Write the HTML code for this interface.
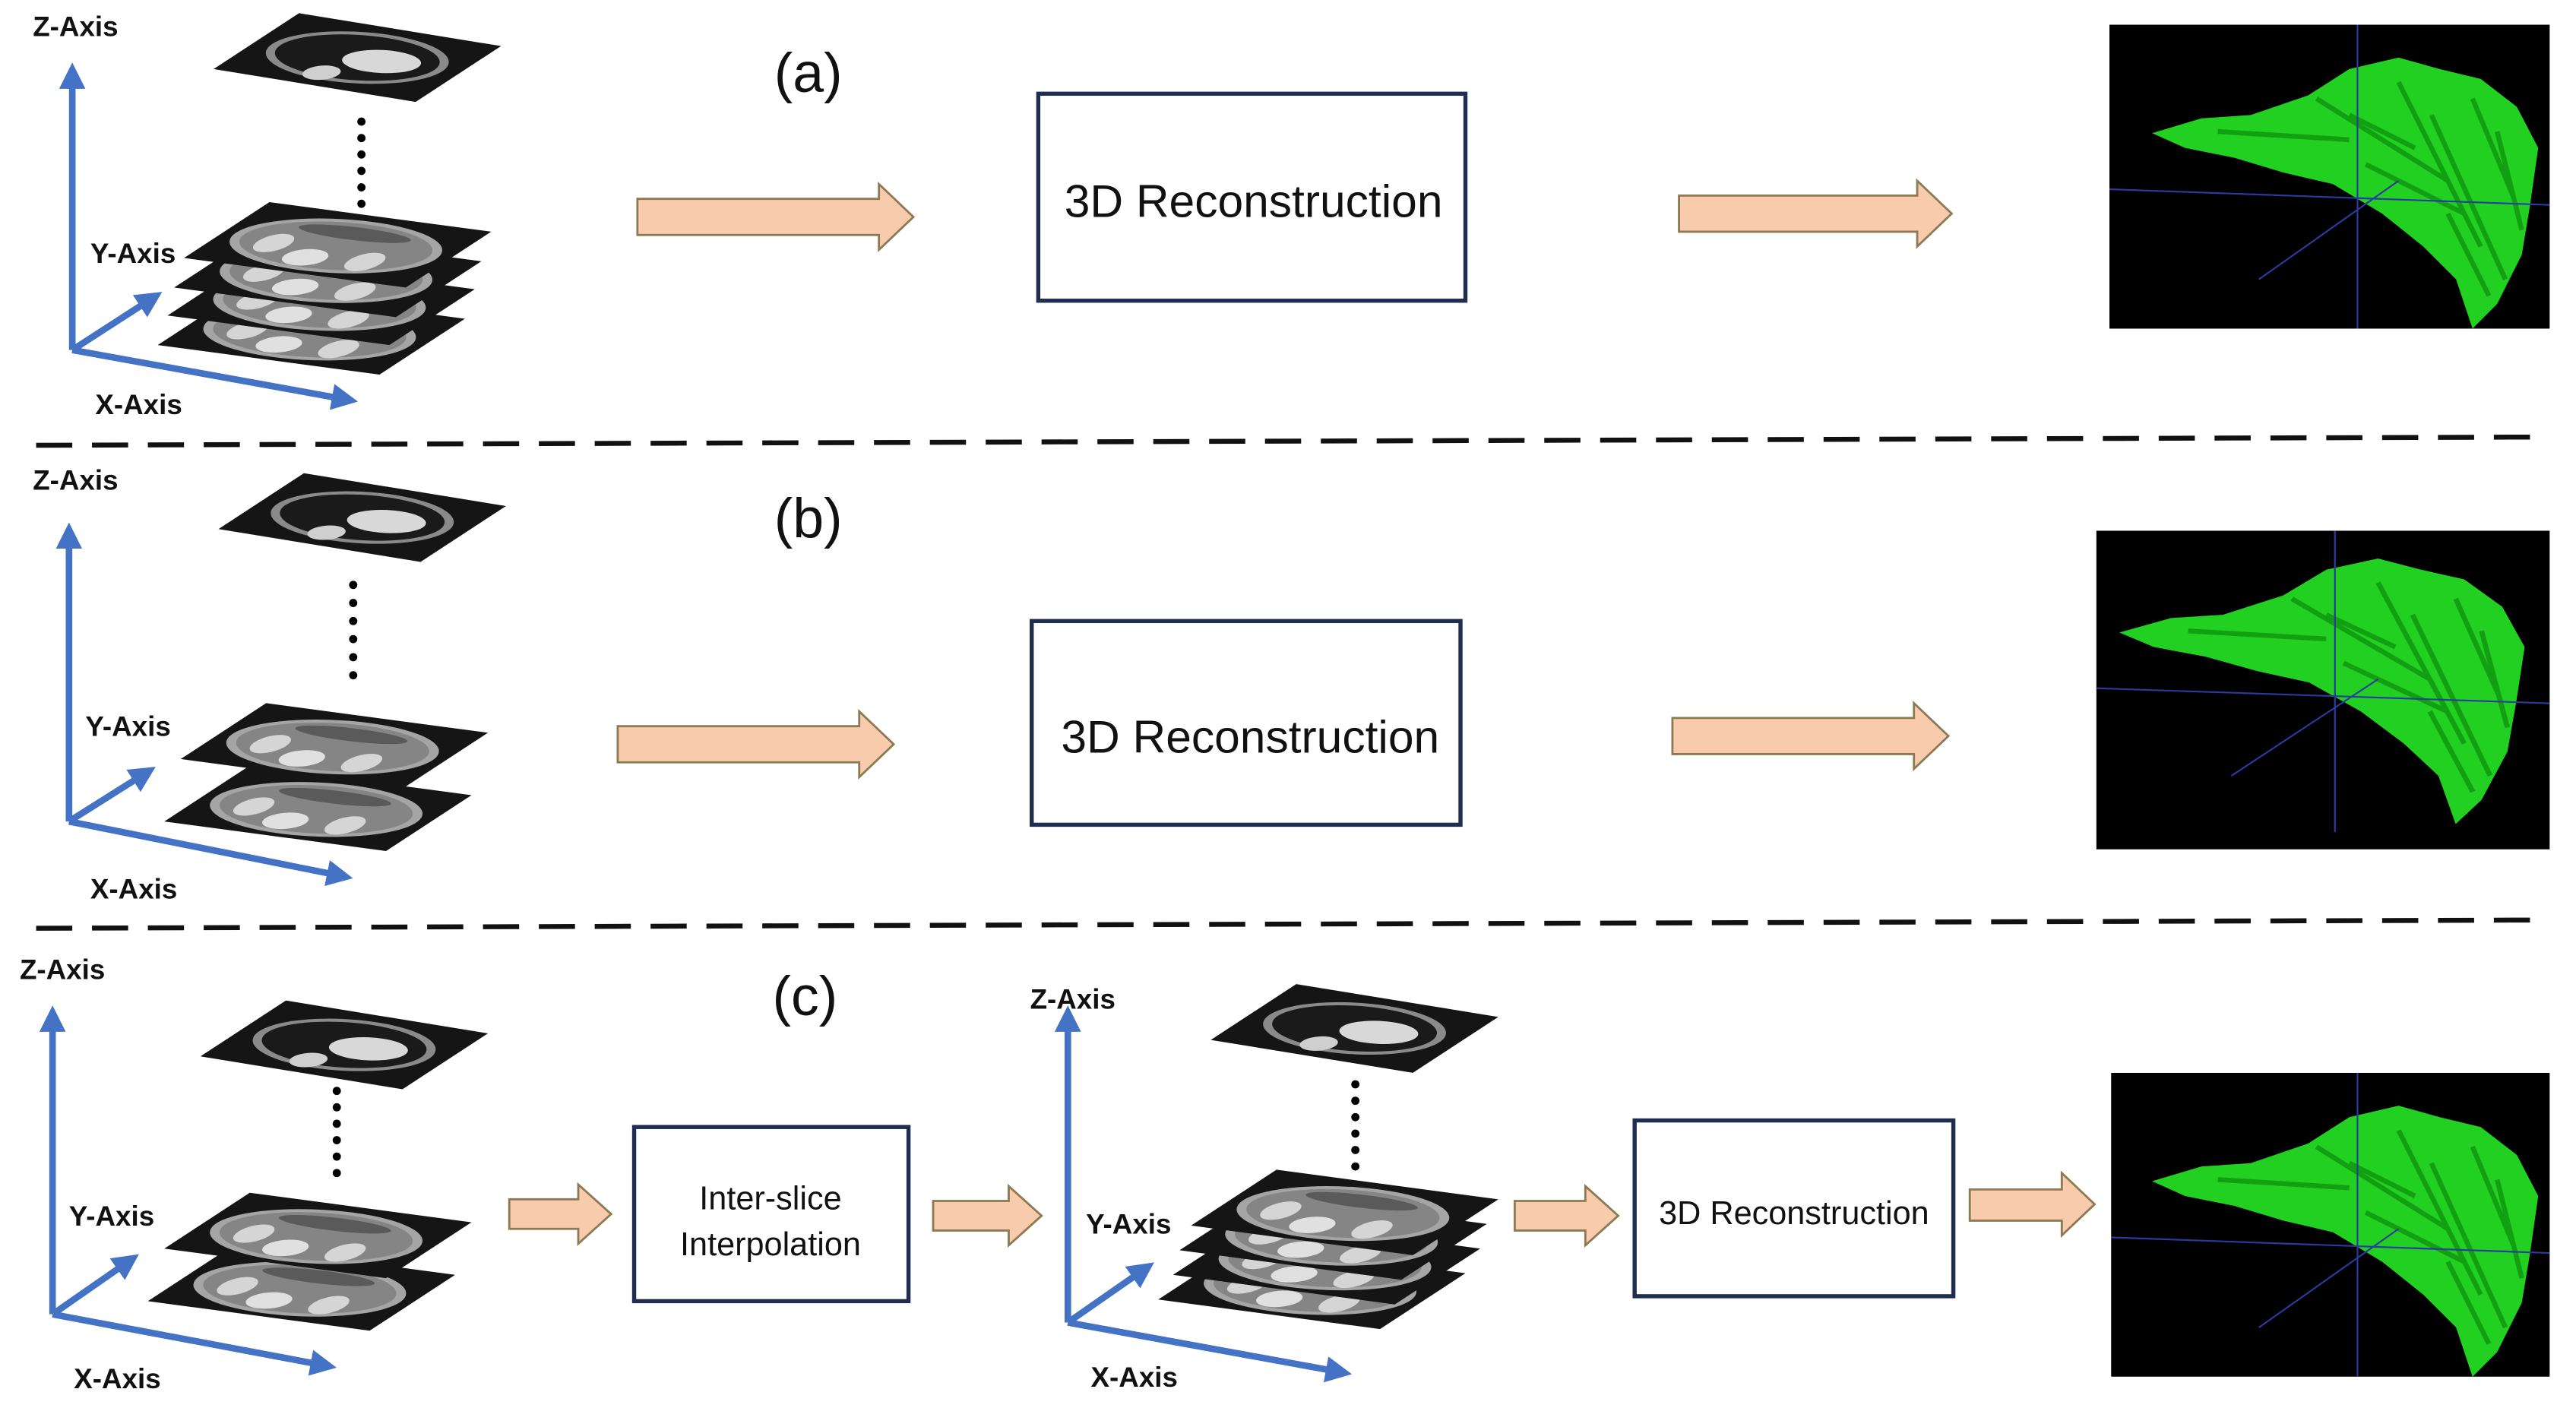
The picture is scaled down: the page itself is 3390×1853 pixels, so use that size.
<!DOCTYPE html>
<html><head><meta charset="utf-8"><style>
html,body{margin:0;padding:0;background:#fff;}
svg{display:block;}
text{font-family:"Liberation Sans",sans-serif;}
.ax{font-weight:bold;font-size:17px;fill:#111;}
.lbl{font-size:34px;fill:#111;text-anchor:middle;}
.bt{font-size:28px;fill:#111;text-anchor:middle;}
.bs{font-size:20px;fill:#111;text-anchor:middle;}
.box{fill:#fff;stroke:#1f2d50;stroke-width:2.5;}
.arr{fill:#f8cbad;stroke:#8c7a55;stroke-width:1.3;}
.axis{stroke:#4472c4;stroke-width:4;fill:none;}
.dash{stroke:#111;stroke-width:3;stroke-dasharray:22 12;}
</style></head><body>
<svg width="3390" height="1853" viewBox="0 0 1568 857" xmlns="http://www.w3.org/2000/svg">
<defs>
<marker id="ah" markerWidth="4" markerHeight="4" refX="2" refY="2" orient="auto" markerUnits="strokeWidth">
<path d="M0,0 L4,2 L0,4 z" fill="#4472c4"/></marker>
<g id="chest" transform="matrix(123,20,52,-34,0,0)">
<rect x="0" y="0" width="1" height="1" fill="#151515"/>
<ellipse cx="0.5" cy="0.5" rx="0.42" ry="0.4" fill="#8a8a8a"/>
<ellipse cx="0.5" cy="0.5" rx="0.38" ry="0.35" fill="#1a1a1a"/>
<ellipse cx="0.62" cy="0.5" rx="0.18" ry="0.18" fill="#d8d8d8"/>
<ellipse cx="0.45" cy="0.2" rx="0.08" ry="0.12" fill="#cfcfcf"/>
</g>
<g id="abd" transform="matrix(135,18,52,-34,0,0)">
<rect x="0" y="0" width="1" height="1" fill="#151515"/>
<ellipse cx="0.5" cy="0.48" rx="0.45" ry="0.43" fill="#a5a5a5"/>
<ellipse cx="0.5" cy="0.48" rx="0.41" ry="0.38" fill="#858585"/>
<ellipse cx="0.45" cy="0.25" rx="0.09" ry="0.14" fill="#e0e0e0"/>
<ellipse cx="0.25" cy="0.4" rx="0.07" ry="0.16" fill="#d5d5d5"/>
<ellipse cx="0.7" cy="0.3" rx="0.07" ry="0.16" fill="#d5d5d5"/>
<ellipse cx="0.5" cy="0.7" rx="0.25" ry="0.1" fill="#5a5a5a"/>
</g>
<g id="blob">
<path d="M0,51 L30,42 L60,40 L95,28 L120,12 L150,5 L175,12 L200,18 L222,35 L235,60 L230,95 L225,125 L210,155 L195,170 L185,140 L165,120 L140,100 L110,82 L80,75 L50,66 L20,60 Z" fill="#22d022"/>
<path d="M40,50 L120,55 M100,30 L180,80 M150,20 L200,120 M170,40 L215,140 M130,70 L190,100 M195,30 L220,90 M120,40 L160,60 M180,100 L205,150 M210,50 L225,110" stroke="#12a012" stroke-width="3" fill="none"/>
<path d="M-30,85 L250,95 M125,-20 L125,175 M65,140 L150,80" stroke="#2a3aa0" stroke-width="1" fill="none"/>
</g>
</defs>
<rect width="1568" height="857" fill="#fff"/>

<!-- Row (a) -->
<line class="axis" x1="44" y1="213" x2="44" y2="46" marker-end="url(#ah)"/>
<line class="axis" x1="44" y1="213" x2="92" y2="182" marker-end="url(#ah)"/>
<line class="axis" x1="44" y1="213" x2="210" y2="243" marker-end="url(#ah)"/>
<text class="ax" x="20" y="22">Z-Axis</text>
<text class="ax" x="55" y="160">Y-Axis</text>
<text class="ax" x="58" y="252">X-Axis</text>
<use href="#abd" transform="translate(96,210)"/>
<use href="#abd" transform="translate(102,192)"/>
<use href="#abd" transform="translate(106,175)"/>
<use href="#abd" transform="translate(112,157)"/>
<use href="#chest" transform="translate(130,42)"/>
<g fill="#000"><circle cx="220" cy="74" r="2.5"/><circle cx="220" cy="84" r="2.5"/><circle cx="220" cy="94" r="2.5"/><circle cx="220" cy="104" r="2.5"/><circle cx="220" cy="114" r="2.5"/><circle cx="220" cy="124" r="2.5"/></g>
<text class="lbl" x="492" y="56">(a)</text>
<path class="arr" d="M388,121 L535,121 L535,112 L556,132 L535,152 L535,143 L388,143 Z"/>
<rect class="box" x="632" y="57" width="260" height="126"/>
<text class="bt" x="763" y="132">3D Reconstruction</text>
<path class="arr" d="M1022,119 L1167,119 L1167,110 L1188,130 L1167,150 L1167,141 L1022,141 Z"/>
<svg x="1284" y="15" width="268" height="185" overflow="hidden"><rect width="268" height="185" fill="#000"/><use href="#blob" transform="translate(26,15)"/></svg>
<line class="dash" x1="22" y1="271" x2="1545" y2="266"/>

<!-- Row (b) -->
<line class="axis" x1="42" y1="500" x2="42" y2="326" marker-end="url(#ah)"/>
<line class="axis" x1="42" y1="500" x2="88" y2="471" marker-end="url(#ah)"/>
<line class="axis" x1="42" y1="500" x2="207" y2="533" marker-end="url(#ah)"/>
<text class="ax" x="20" y="298">Z-Axis</text>
<text class="ax" x="52" y="448">Y-Axis</text>
<text class="ax" x="55" y="547">X-Axis</text>
<use href="#abd" transform="translate(100,500)"/>
<use href="#abd" transform="translate(110,462)"/>
<use href="#chest" transform="translate(133,322)"/>
<g fill="#000"><circle cx="215" cy="356" r="2.5"/><circle cx="215" cy="367" r="2.5"/><circle cx="215" cy="378" r="2.5"/><circle cx="215" cy="389" r="2.5"/><circle cx="215" cy="400" r="2.5"/><circle cx="215" cy="411" r="2.5"/></g>
<text class="lbl" x="492" y="327">(b)</text>
<path class="arr" d="M376,442 L523,442 L523,433 L544,453 L523,473 L523,464 L376,464 Z"/>
<rect class="box" x="628" y="378" width="261" height="124"/>
<text class="bt" x="761" y="458">3D Reconstruction</text>
<path class="arr" d="M1018,437 L1165,437 L1165,428 L1186,448 L1165,468 L1165,459 L1018,459 Z"/>
<svg x="1276" y="323" width="276" height="194" overflow="hidden"><rect width="276" height="194" fill="#000"/><use href="#blob" transform="translate(14,12) scale(1.05,0.98)"/></svg>
<line class="dash" x1="22" y1="565" x2="1545" y2="560"/>

<!-- Row (c) -->
<line class="axis" x1="32" y1="800" x2="32" y2="620" marker-end="url(#ah)"/>
<line class="axis" x1="32" y1="800" x2="78" y2="768" marker-end="url(#ah)"/>
<line class="axis" x1="32" y1="800" x2="197" y2="831" marker-end="url(#ah)"/>
<text class="ax" x="12" y="596">Z-Axis</text>
<text class="ax" x="42" y="746">Y-Axis</text>
<text class="ax" x="45" y="845">X-Axis</text>
<use href="#abd" transform="translate(90,792)"/>
<use href="#abd" transform="translate(100,760)"/>
<use href="#chest" transform="translate(122,643)"/>
<g fill="#000"><circle cx="205" cy="664" r="2.5"/><circle cx="205" cy="674" r="2.5"/><circle cx="205" cy="684" r="2.5"/><circle cx="205" cy="694" r="2.5"/><circle cx="205" cy="704" r="2.5"/><circle cx="205" cy="714" r="2.5"/></g>
<text class="lbl" x="490" y="618">(c)</text>
<path class="arr" d="M310,730 L352,730 L352,721 L372,739 L352,757 L352,748 L310,748 Z"/>
<rect class="box" x="386" y="686" width="167" height="106"/>
<text class="bs" x="469" y="736">Inter-slice</text>
<text class="bs" x="469" y="764">Interpolation</text>
<path class="arr" d="M568,731 L614,731 L614,722 L634,740 L614,758 L614,749 L568,749 Z"/>
<line class="axis" x1="650" y1="805" x2="650" y2="620" marker-end="url(#ah)"/>
<line class="axis" x1="650" y1="805" x2="696" y2="773" marker-end="url(#ah)"/>
<line class="axis" x1="650" y1="805" x2="815" y2="835" marker-end="url(#ah)"/>
<text class="ax" x="627" y="614">Z-Axis</text>
<text class="ax" x="661" y="751">Y-Axis</text>
<text class="ax" x="664" y="844">X-Axis</text>
<use href="#abd" transform="translate(705,791)"/>
<use href="#abd" transform="translate(714,776)"/>
<use href="#abd" transform="translate(718,761)"/>
<use href="#abd" transform="translate(725,746)"/>
<use href="#chest" transform="translate(737,633)"/>
<g fill="#000"><circle cx="825" cy="660" r="2.5"/><circle cx="825" cy="670" r="2.5"/><circle cx="825" cy="680" r="2.5"/><circle cx="825" cy="690" r="2.5"/><circle cx="825" cy="700" r="2.5"/><circle cx="825" cy="710" r="2.5"/></g>
<path class="arr" d="M922,731 L965,731 L965,722 L985,740 L965,758 L965,749 L922,749 Z"/>
<rect class="box" x="995" y="682" width="194" height="107"/>
<text class="bs" x="1092" y="745">3D Reconstruction</text>
<path class="arr" d="M1199,724 L1255,724 L1255,714 L1275,733 L1255,752 L1255,743 L1199,743 Z"/>
<svg x="1285" y="653" width="267" height="185" overflow="hidden"><rect width="267" height="185" fill="#000"/><use href="#blob" transform="translate(25,15)"/></svg>
</svg>
</body></html>
